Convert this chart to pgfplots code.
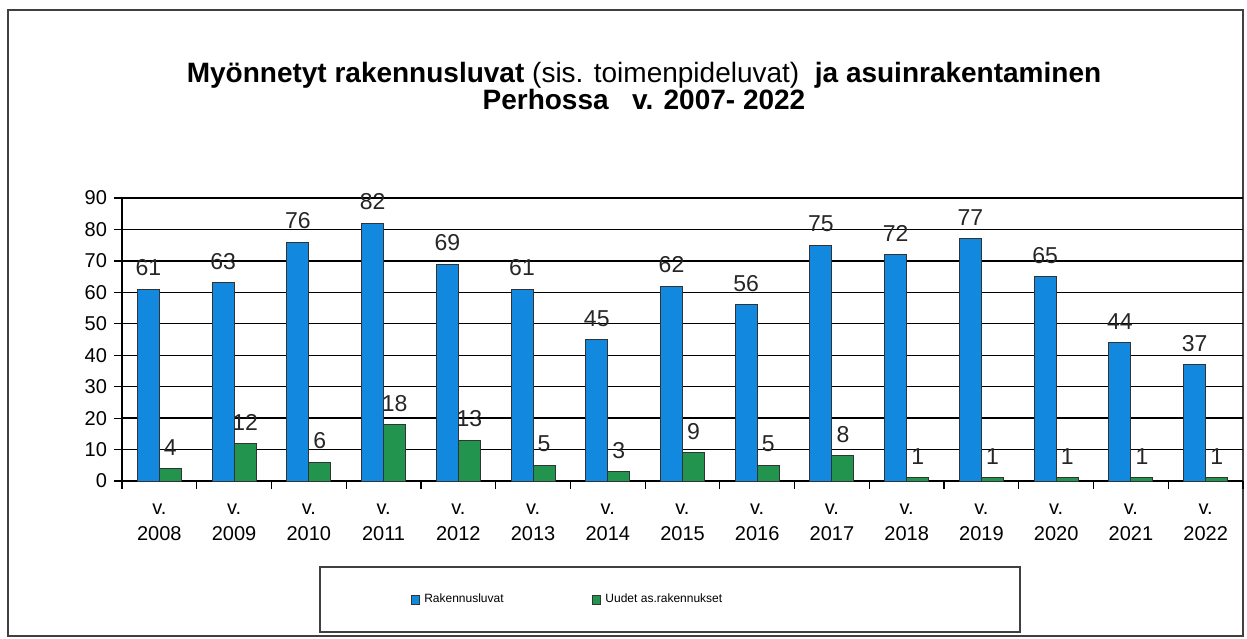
\documentclass[border=0pt]{standalone}
\usepackage{fontspec}
\setmainfont{Liberation Sans}
\usepackage{pgfplots}
\pgfplotsset{compat=1.18}
\definecolor{lupablue}{RGB}{18,137,222}
\definecolor{uusgreen}{RGB}{34,148,78}

\begin{document}
\begin{tikzpicture}[x=1pt,y=1pt]
\useasboundingbox (0,0) rectangle (623.5,319);
% outer frame
\draw[black!75, line width=0.8pt] (4,1) rectangle (621.5,314);
% title
\node[align=center, font=\fontsize{14}{13.5}\selectfont] at (322,276)
  {\textbf{Myönnetyt rakennusluvat} (sis. toimenpideluvat) \ \textbf{ja asuinrakentaminen}\\
   \textbf{Perhossa \ \ v. 2007- 2022}};
% legend box
\draw[black!75, line width=0.6pt] (160,3) rectangle (510,35.5);

\begin{axis}[
    at={(61pt,78.5pt)}, anchor=south west,
    scale only axis, width=560.5pt, height=141.5pt,
    ybar=0pt, bar width=11pt,
    xmin=-0.5, xmax=14.5, ymin=0, ymax=90,
    axis lines*=left,
    axis line style={black, line width=0.6pt},
    ytick={0,10,...,90},
    ymajorgrids, grid style={black, line width=0.7pt},
    tick align=outside,
    major tick length=4pt,
    tick style={black, line width=0.6pt},
    xtick={0,...,14},
    xtick style={draw=none},
    xticklabels={{v.\\2008},{v.\\2009},{v.\\2010},{v.\\2011},{v.\\2012},{v.\\2013},{v.\\2014},{v.\\2015},{v.\\2016},{v.\\2017},{v.\\2018},{v.\\2019},{v.\\2020},{v.\\2021},{v.\\2022}},
    xticklabel style={align=center, font=\fontsize{10}{13}\selectfont, yshift=-4pt},
    extra x ticks={-0.5,0.5,...,14.5},
    extra x tick labels={},
    extra x tick style={xtick style={draw=black, line width=0.6pt}, grid=none},
    yticklabel style={font=\fontsize{10}{12}\selectfont},
    /pgf/number format/assume math mode=true,
    nodes near coords,
    nodes near coords style={font=\fontsize{11.5}{12}\selectfont, black!85, yshift=3pt},
    legend columns=2,
    legend style={draw=none, fill=none, at={(0.257,-0.42)}, anchor=west,
        font=\fontsize{6}{8}\selectfont, inner xsep=0pt,
        /tikz/every even column/.append style={column sep=42pt}},
    legend image code/.code={\draw[#1] (0pt,-2.2pt) rectangle (4.4pt,2.2pt);},
]
\addplot[fill=lupablue, draw=black!80, line width=0.5pt] coordinates {
  (0,61) (1,63) (2,76) (3,82) (4,69) (5,61) (6,45) (7,62)
  (8,56) (9,75) (10,72) (11,77) (12,65) (13,44) (14,37)};
\addplot[fill=uusgreen, draw=black!80, line width=0.5pt] coordinates {
  (0,4) (1,12) (2,6) (3,18) (4,13) (5,5) (6,3) (7,9)
  (8,5) (9,8) (10,1) (11,1) (12,1) (13,1) (14,1)};
\legend{Rakennusluvat, Uudet as.rakennukset}
\end{axis}
\end{tikzpicture}
\end{document}
